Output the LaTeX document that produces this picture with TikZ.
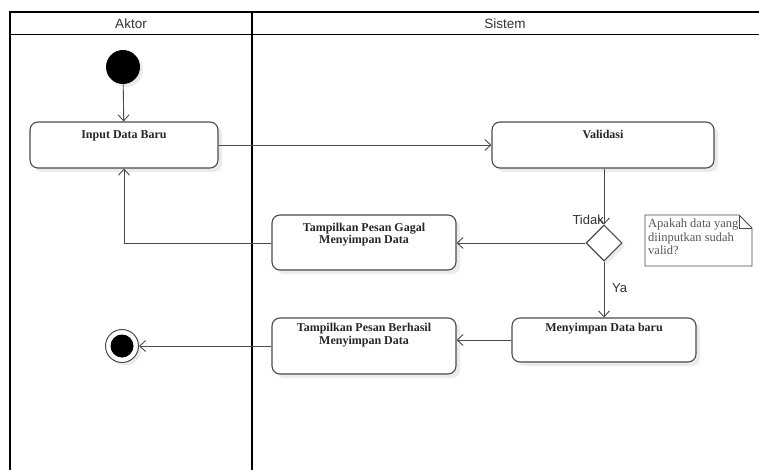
\documentclass[tikz,border=0pt]{standalone}
\usepackage{fontspec}
\setmainfont{Liberation Serif}
\newfontfamily\headfont{Liberation Sans}
\usetikzlibrary{arrows.meta,shapes.geometric,shadows}
\definecolor{linegrey}{HTML}{4A4A4A}
\definecolor{notegrey}{HTML}{555555}
\tikzset{
  actbox/.style={draw=linegrey, line width=1.1pt, rounded corners=8pt, fill=white,
    drop shadow={shadow xshift=4pt, shadow yshift=-4pt, fill=black, opacity=0.08},
    inner sep=0pt},
  acttext/.style={anchor=north, font=\bfseries\fontsize{12}{12.5}\selectfont, align=center, text=black!85, inner sep=0pt},
  flow/.style={draw=linegrey, line width=0.9pt, -{Straight Barb[length=6pt,width=11pt,line width=0.9pt]}},
  lanehead/.style={font=\headfont\fontsize{13.5}{14}\selectfont, text=black!80},
  guard/.style={font=\headfont\fontsize{13}{14}\selectfont, text=black!80, inner sep=1pt},
}
\begin{document}
\begin{tikzpicture}[x=1pt,y=-1pt]
\useasboundingbox (0,0) rectangle (759,470);
\fill[white] (0,0) rectangle (759,470);

% swimlane frame
\draw[line width=1.2pt] (10,470) -- (10,12) -- (762,12);
\draw[line width=1pt] (10,35) -- (762,35);
\draw[line width=1.2pt] (252,12) -- (252,470);
\node[lanehead] (laneA) at (131,23.5) {Aktor};
\node[lanehead] (laneS) at (505,23.5) {Sistem};

% start and end
\node[circle, fill=black, minimum size=34pt, inner sep=0pt,
  drop shadow={shadow xshift=3pt, shadow yshift=-3pt, fill=black, opacity=0.08}] (start) at (123,67) {};
\node[circle, draw=linegrey, line width=1pt, fill=white, minimum size=33pt, inner sep=0pt,
  drop shadow={shadow xshift=3pt, shadow yshift=-3pt, fill=black, opacity=0.08}] (end) at (122,346) {};
\node[circle, fill=black, minimum size=23pt, inner sep=0pt] (endcore) at (122,346) {};

% activities
\node[actbox, minimum width=188pt, minimum height=46pt] (input) at (124,145) {};
\node[acttext] (inputT) at ([yshift=-9pt]input.north) {Input Data Baru};

\node[actbox, minimum width=222pt, minimum height=46pt] (valid) at (603,145) {};
\node[acttext] (validT) at ([yshift=-9pt]valid.north) {Validasi};

\node[actbox, minimum width=184pt, minimum height=55pt] (gagal) at (364,242.5) {};
\node[acttext] (gagalT) at ([yshift=-8.5pt]gagal.north) {Tampilkan Pesan Gagal\\Menyimpan Data};

\node[actbox, minimum width=184pt, minimum height=44pt] (simpan) at (604,340) {};
\node[acttext] (simpanT) at ([yshift=-6pt]simpan.north) {Menyimpan Data baru};

\node[actbox, minimum width=184pt, minimum height=56pt] (berhasil) at (364,346) {};
\node[acttext] (berhasilT) at ([yshift=-6pt]berhasil.north) {Tampilkan Pesan Berhasil\\Menyimpan Data};

% decision
\node[diamond, draw=linegrey, line width=1.1pt, fill=white, minimum width=36pt, minimum height=36pt, inner sep=0pt,
  drop shadow={shadow xshift=3pt, shadow yshift=-3pt, fill=black, opacity=0.08}] (dec) at (604,243) {};

% note with folded corner
\draw[draw=linegrey, line width=0.9pt, fill=white]
  (645,215) -- (739,215) -- (752,228) -- (752,266) -- (645,266) -- cycle;
\draw[draw=linegrey, line width=0.9pt] (739,215) -- (739,228) -- (752,228);
\node[anchor=north west, align=left, inner sep=0pt, text=notegrey,
  font=\fontsize{12.5}{13.5}\selectfont] (noteT) at (648,219)
  {Apakah data yang\\diinputkan sudah\\valid?};

% flows
\draw[flow] (start) -- (input);
\draw[flow] (input.east) -- (valid.west);
\draw[flow] (valid.south -| dec.north) -- (dec.north);
\draw[flow] (dec.west) -- (gagal.east |- dec.west);
\draw[flow] (gagal.west |- dec.west) -| (input.south);
\draw[flow] (dec.south) -- (simpan.north);
\draw[flow] (simpan.west) -- (berhasil.east |- simpan.west);
\draw[flow] (berhasil.west) -- (end.east);

% guards
\node[guard, anchor=south east] (tidak) at ([xshift=1pt,yshift=-1pt]dec.north) {Tidak};
\node[guard, anchor=west] (ya) at (611,288) {Ya};
\end{tikzpicture}
\end{document}
